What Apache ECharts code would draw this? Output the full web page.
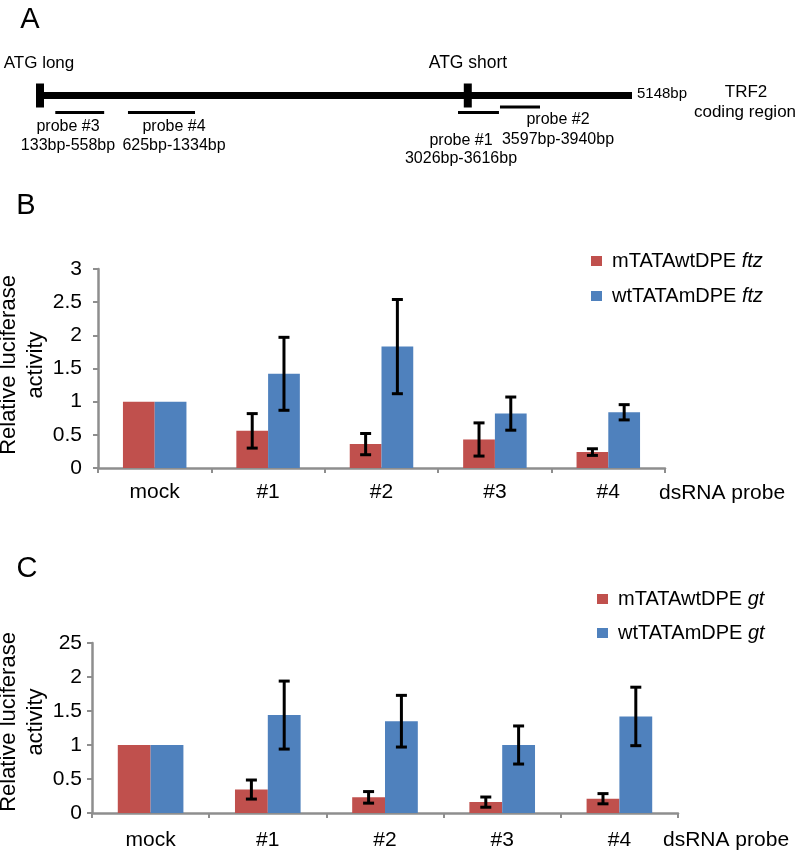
<!DOCTYPE html>
<html>
<head>
<meta charset="utf-8">
<script src="https://cdn.jsdelivr.net/npm/echarts@6/dist/echarts.min.js"></script>
<style>
html,body{margin:0;padding:0;background:#fff;}
#chart{width:798px;height:851px;}
</style>
</head>
<body>
<div id="chart"></div>
<script>
// ---------- DATA ----------
const categories = ['mock', '#1', '#2', '#3', '#4'];

// Panel B (ftz)
const seriesNamesB = ['mTATAwtDPE ftz', 'wtTATAmDPE ftz'];
const redB = [1, 0.56, 0.36, 0.43, 0.24];
const redErrB = [0, 0.26, 0.16, 0.25, 0.05];
const blueB = [1, 1.42, 1.83, 0.82, 0.84];
const blueErrB = [0, 0.55, 0.71, 0.25, 0.115];
const yTickLabelsB = ['0', '0.5', '1', '1.5', '2', '2.5', '3'];

// Panel C (gt)
const seriesNamesC = ['mTATAwtDPE gt', 'wtTATAmDPE gt'];
const redC = [1, 0.345, 0.23, 0.16, 0.21];
const redErrC = [0, 0.14, 0.085, 0.075, 0.075];
const blueC = [1, 1.44, 1.35, 1.0, 1.42];
const blueErrC = [0, 0.50, 0.38, 0.28, 0.43];
const yTickLabelsC = ['0', '0.5', '1', '1.5', '2', '25'];

// Panel A (schematic, bp positions as drawn)
const geneLength = 5148;
const atgNames = ['ATG long', 'ATG short'];
const atgPos = [0, 3720];
const probeNames = ['probe #3', 'probe #4', 'probe #1', 'probe #2'];
const probeRanges = ['133bp-558bp', '625bp-1334bp', '3026bp-3616bp', '3597bp-3940bp'];
const probeDrawnStart = [133, 765, 3635, 4000];
const probeDrawnEnd = [558, 1348, 3991, 4348];
const probeLane = [0, 0, 0, 1];

// ---------- STYLE ----------
const RED = '#C0504D', BLUE = '#4F81BD', AXIS = '#8e8e8e';
const FONT = '"Liberation Sans", Arial, Helvetica, sans-serif';
const BARW = 0.28;

const chart = echarts.init(document.getElementById('chart'), null, {renderer: 'canvas'});

function errSeries(name, grid, means, errs, sign) {
  const data = means.map((m, i) => [i, m - errs[i], m + errs[i], errs[i]]);
  return {
    type: 'custom', name: name + '_err', xAxisIndex: grid, yAxisIndex: grid,
    data: data, z: 5, silent: true,
    encode: {x: 0, y: [1, 2]},
    renderItem: function (params, api) {
      if (api.value(3) === 0) return null;
      const i = api.value(0);
      const lo = api.coord([i, api.value(1)]);
      const hi = api.coord([i, api.value(2)]);
      const bw = api.size([1, 0])[0] * BARW;
      const x = lo[0] + sign * bw / 2;
      const cap = 5.5;
      const st = {stroke: '#000', lineWidth: 3};
      return {type: 'group', children: [
        {type: 'line', shape: {x1: x, y1: lo[1], x2: x, y2: hi[1]}, style: st},
        {type: 'line', shape: {x1: x - cap, y1: lo[1], x2: x + cap, y2: lo[1]}, style: st},
        {type: 'line', shape: {x1: x - cap, y1: hi[1], x2: x + cap, y2: hi[1]}, style: st}
      ]};
    }
  };
}

function legendFmt(name) {
  const parts = name.split(' ');
  return '{n|' + parts[0] + ' }{i|' + parts[1] + '}';
}
const legendText = {
  fontFamily: FONT, fontSize: 20, color: '#000', padding: [0, 0, 0, 5],
  rich: {n: {fontFamily: FONT, fontSize: 20, color: '#000'},
         i: {fontFamily: FONT, fontSize: 20, color: '#000', fontStyle: 'italic'}}
};

function xAxisCfg(grid, margin) {
  return {
    type: 'category', gridIndex: grid, data: categories,
    axisLine: {show: true, lineStyle: {color: AXIS, width: 2.5}},
    axisTick: {show: true, length: 5, lineStyle: {color: AXIS, width: 2}},
    axisLabel: {color: '#000', fontSize: 21, fontFamily: FONT, margin: margin},
    splitLine: {show: false}
  };
}
function yAxisCfg(grid, max, labels, margin) {
  return {
    type: 'value', gridIndex: grid, min: 0, max: max, interval: 0.5,
    axisLine: {show: true, lineStyle: {color: AXIS, width: 2.5}},
    axisTick: {show: true, length: 5, lineStyle: {color: AXIS, width: 2}},
    axisLabel: {color: '#000', fontSize: 21, fontFamily: FONT, margin: margin,
      formatter: v => labels[Math.round(v / 0.5)]},
    splitLine: {show: false}
  };
}

// schematic renderers
const schemX = 2; // grid index for panel A
function mainLineSeries() {
  return {
    type: 'custom', xAxisIndex: schemX, yAxisIndex: schemX, silent: true,
    data: [[0, geneLength]], encode: {x: [0, 1]},
    renderItem: function (p, api) {
      const a = api.coord([api.value(0), 0]);
      const b = api.coord([api.value(1), 0]);
      return {type: 'rect', shape: {x: a[0], y: a[1] - 3.5, width: b[0] - a[0], height: 7}, style: {fill: '#000'}};
    }
  };
}
function atgSeries() {
  return {
    type: 'custom', xAxisIndex: schemX, yAxisIndex: schemX, silent: true,
    data: atgPos.map(v => [v]), encode: {x: 0},
    renderItem: function (p, api) {
      const a = api.coord([api.value(0), 0]);
      return {type: 'rect', shape: {x: a[0] - 4, y: a[1] - 12, width: 8, height: 24}, style: {fill: '#000'}};
    }
  };
}
function probeSeries() {
  return {
    type: 'custom', xAxisIndex: schemX, yAxisIndex: schemX, silent: true,
    data: probeDrawnStart.map((s, i) => [s, probeDrawnEnd[i], probeLane[i]]), encode: {x: [0, 1]},
    renderItem: function (p, api) {
      const a = api.coord([api.value(0), 0]);
      const b = api.coord([api.value(1), 0]);
      const off = api.value(2) === 0 ? 17 : 11.5;
      return {type: 'rect', shape: {x: a[0], y: a[1] + off - 1.5, width: b[0] - a[0], height: 3}, style: {fill: '#000'}};
    }
  };
}

function txt(x, y, text, size, extra) {
  return Object.assign({type: 'text', x: x, y: y, silent: true,
    style: {text: text, fontSize: size, fontFamily: FONT, fill: '#000', align: 'center', verticalAlign: 'middle'}}, extra || {});
}
function rotTitle(x, y) {
  return {type: 'text', x: x, y: y, rotation: Math.PI / 2, silent: true,
    style: {text: 'Relative luciferase\nactivity', fontSize: 22, lineHeight: 27, fontFamily: FONT, fill: '#000', align: 'center', verticalAlign: 'middle'}};
}

// probe label positions (centers)
const probeLabelPos = [[68, 127, 146], [174, 127, 146], [461, 141, 159], [558, 120, 140]];

const graphics = [
  txt(30, 20, 'A', 29), txt(26, 206, 'B', 29), txt(27, 569, 'C', 29),
  txt(39, 63, atgNames[0], 17), txt(468, 63, atgNames[1], 17.5),
  txt(637, 94, geneLength + 'bp', 15, {style: {text: geneLength + 'bp', fontSize: 15, fontFamily: FONT, fill: '#000', align: 'left', verticalAlign: 'middle'}}),
  txt(746, 92, 'TRF2', 17), txt(745, 112, 'coding region', 17),
  rotTitle(22, 365), rotTitle(22, 722),
  {type: 'text', x: 659, y: 493, silent: true, style: {text: 'dsRNA probe', fontSize: 21, fontFamily: FONT, fill: '#000', align: 'left', verticalAlign: 'middle'}},
  {type: 'text', x: 663, y: 840, silent: true, style: {text: 'dsRNA probe', fontSize: 21, fontFamily: FONT, fill: '#000', align: 'left', verticalAlign: 'middle'}}
];
probeNames.forEach((n, i) => {
  const p = probeLabelPos[i];
  graphics.push(txt(p[0], p[1], n, 16));
  graphics.push(txt(p[0], p[2], probeRanges[i], 16));
});

const option = {
  animation: false,
  backgroundColor: '#fff',
  grid: [
    {left: 98, right: 133, top: 269, bottom: 383, containLabel: false},
    {left: 92, right: 120, top: 643, bottom: 38, containLabel: false},
    {left: 40, right: 166, top: 75, height: 41, containLabel: false}
  ],
  xAxis: [
    xAxisCfg(0, 14), xAxisCfg(1, 17),
    {type: 'value', gridIndex: 2, min: 0, max: geneLength, show: false}
  ],
  yAxis: [
    yAxisCfg(0, 3, yTickLabelsB, 16), yAxisCfg(1, 2.5, yTickLabelsC, 10),
    {type: 'value', gridIndex: 2, min: -1, max: 1, show: false}
  ],
  legend: [
    {data: seriesNamesB, orient: 'vertical', left: 586, top: 246, icon: 'rect',
     itemWidth: 11, itemHeight: 10, itemGap: 15, textStyle: legendText, formatter: legendFmt, selectedMode: false},
    {data: seriesNamesC, orient: 'vertical', left: 592, top: 584, icon: 'rect',
     itemWidth: 11, itemHeight: 10, itemGap: 14, textStyle: legendText, formatter: legendFmt, selectedMode: false}
  ],
  graphic: graphics,
  series: [
    {type: 'bar', name: seriesNamesB[0], xAxisIndex: 0, yAxisIndex: 0, data: redB, barWidth: (BARW * 100) + '%', barGap: '0%', itemStyle: {color: RED}},
    {type: 'bar', name: seriesNamesB[1], xAxisIndex: 0, yAxisIndex: 0, data: blueB, barWidth: (BARW * 100) + '%', barGap: '0%', itemStyle: {color: BLUE}},
    errSeries('rb', 0, redB, redErrB, -1),
    errSeries('bb', 0, blueB, blueErrB, 1),
    {type: 'bar', name: seriesNamesC[0], xAxisIndex: 1, yAxisIndex: 1, data: redC, barWidth: (BARW * 100) + '%', barGap: '0%', itemStyle: {color: RED}},
    {type: 'bar', name: seriesNamesC[1], xAxisIndex: 1, yAxisIndex: 1, data: blueC, barWidth: (BARW * 100) + '%', barGap: '0%', itemStyle: {color: BLUE}},
    errSeries('rc', 1, redC, redErrC, -1),
    errSeries('bc', 1, blueC, blueErrC, 1),
    mainLineSeries(), atgSeries(), probeSeries()
  ]
};
chart.setOption(option);
</script>
</body>
</html>
